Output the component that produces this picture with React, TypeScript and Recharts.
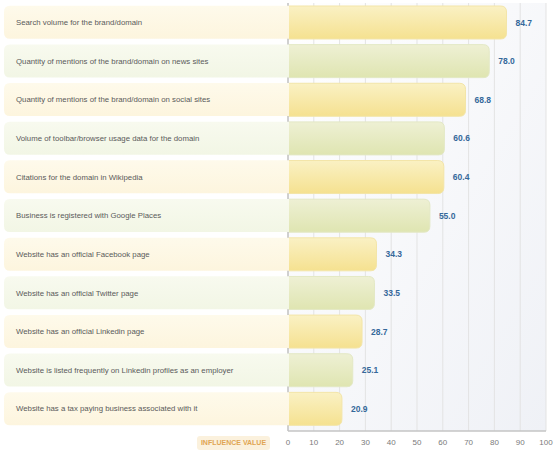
import React from 'react';
import {
  BarChart,
  Bar,
  XAxis,
  YAxis,
  CartesianGrid,
  LabelList,
  ReferenceLine,
} from 'recharts';

const factors = [
  'Search volume for the brand/domain',
  'Quantity of mentions of the brand/domain on news sites',
  'Quantity of mentions of the brand/domain on social sites',
  'Volume of toolbar/browser usage data for the domain',
  'Citations for the domain in Wikipedia',
  'Business is registered with Google Places',
  'Website has an official Facebook page',
  'Website has an official Twitter page',
  'Website has an official Linkedin page',
  'Website is listed frequently on Linkedin profiles as an employer',
  'Website has a tax paying business associated with it',
];

const influence = [84.7, 78.0, 68.8, 60.6, 60.4, 55.0, 34.3, 33.5, 28.7, 25.1, 20.9];

const xTicks = [0, 10, 20, 30, 40, 50, 60, 70, 80, 90, 100];

const data = factors.map((name, i) => ({ name, value: influence[i] }));

const FONT = '"Liberation Sans", Arial, sans-serif';

// label panel on the left of each row, drawn as the category tick
const FactorTick = (props: any) => {
  const { x, y, payload, index } = props;
  const left = 4;
  const right = x + 9; // tick x sits left of the axis by tickSize+margin
  const h = 33;
  const top = y - h / 2;
  const r = 6;
  const fill = index % 2 === 0 ? 'url(#panelY)' : 'url(#panelG)';
  const d = `M${left + r},${top} H${right} V${top + h} H${left + r} Q${left},${top + h} ${left},${top + h - r} V${top + r} Q${left},${top} ${left + r},${top} Z`;
  return (
    <g>
      <path d={d} fill={fill} />
      <text x={16} y={y} dy="0.35em" fill="#5a5a5a" fontSize={7.8} fontFamily={FONT}>
        {payload.value}
      </text>
    </g>
  );
};

const RoundBar = (props: any) => {
  const { x, y, width, height, index } = props;
  const r = Math.min(6, width / 2);
  const d = `M${x},${y} H${x + width - r} Q${x + width},${y} ${x + width},${y + r} V${y + height - r} Q${x + width},${y + height} ${x + width - r},${y + height} H${x} Z`;
  const even = index % 2 === 0;
  return (
    <path
      d={d}
      fill={even ? 'url(#barY)' : 'url(#barG)'}
      stroke={even ? '#f3e5a8' : '#e3e8c4'}
      strokeWidth={1}
    />
  );
};

const InfluenceLabel = (props: any) => {
  const { viewBox } = props;
  if (!viewBox) return null;
  const bx = viewBox.x - 91;
  const by = viewBox.y + 5;
  return (
    <g>
      <rect x={bx} y={by} width={73} height={14} rx={3} fill="#fbf1dd" />
      <text
        x={bx + 36.5}
        y={by + 7}
        dy="0.35em"
        textAnchor="middle"
        fill="#e0a553"
        fontSize={7}
        fontWeight="bold"
        fontFamily={FONT}
      >
        INFLUENCE VALUE
      </text>
    </g>
  );
};

export default function App() {
  return (
    <div style={{ position: 'absolute', left: 0, top: 0, width: 560, height: 454, background: '#fff' }}>
      <BarChart
        width={560}
        height={454}
        data={data}
        layout="vertical"
        margin={{ top: 3, right: 14, bottom: 0, left: 4 }}
        barSize={33}
      >
        <defs>
          <linearGradient id="plotBg" x1="0" y1="0" x2="1" y2="1">
            <stop offset="0%" stopColor="#ffffff" />
            <stop offset="100%" stopColor="#eff1f6" />
          </linearGradient>
          <linearGradient id="barY" x1="0" y1="0" x2="0" y2="1">
            <stop offset="0%" stopColor="#faf1c4" />
            <stop offset="100%" stopColor="#f5e190" />
          </linearGradient>
          <linearGradient id="barG" x1="0" y1="0" x2="0" y2="1">
            <stop offset="0%" stopColor="#eef0d4" />
            <stop offset="100%" stopColor="#dfe5b1" />
          </linearGradient>
          <linearGradient id="panelY" x1="0" y1="0" x2="0" y2="1">
            <stop offset="0%" stopColor="#fefaeb" />
            <stop offset="100%" stopColor="#fdf5de" />
          </linearGradient>
          <linearGradient id="panelG" x1="0" y1="0" x2="0" y2="1">
            <stop offset="0%" stopColor="#f8faef" />
            <stop offset="100%" stopColor="#f2f6e5" />
          </linearGradient>
        </defs>
        <CartesianGrid
          horizontal={false}
          stroke="#e3e3e3"
          fill="url(#plotBg)"
          strokeWidth={1}
        />
        <XAxis
          type="number"
          domain={[0, 100]}
          ticks={xTicks}
          interval={0}
          height={23}
          tickLine={false}
          axisLine={{ stroke: '#c4c4c4', strokeWidth: 1.5 }}
          tick={{ fill: '#7a7a7a', fontSize: 8, fontFamily: FONT }}
          label={<InfluenceLabel />}
        />
        <YAxis
          type="category"
          dataKey="name"
          width={284}
          axisLine={false}
          tickLine={false}
          padding={{ top: 0, bottom: 3 }}
          tick={<FactorTick />}
        />
        <Bar dataKey="value" shape={<RoundBar />} isAnimationActive={false}>
          <LabelList
            dataKey="value"
            position="right"
            offset={9}
            formatter={(v: any) => Number(v).toFixed(1)}
            fill="#35689a"
            fontSize={8.5}
            fontWeight="bold"
            fontFamily={FONT}
          />
        </Bar>
        <ReferenceLine x={0} stroke="#c4c4c4" strokeWidth={1.5} />
      </BarChart>
    </div>
  );
}
